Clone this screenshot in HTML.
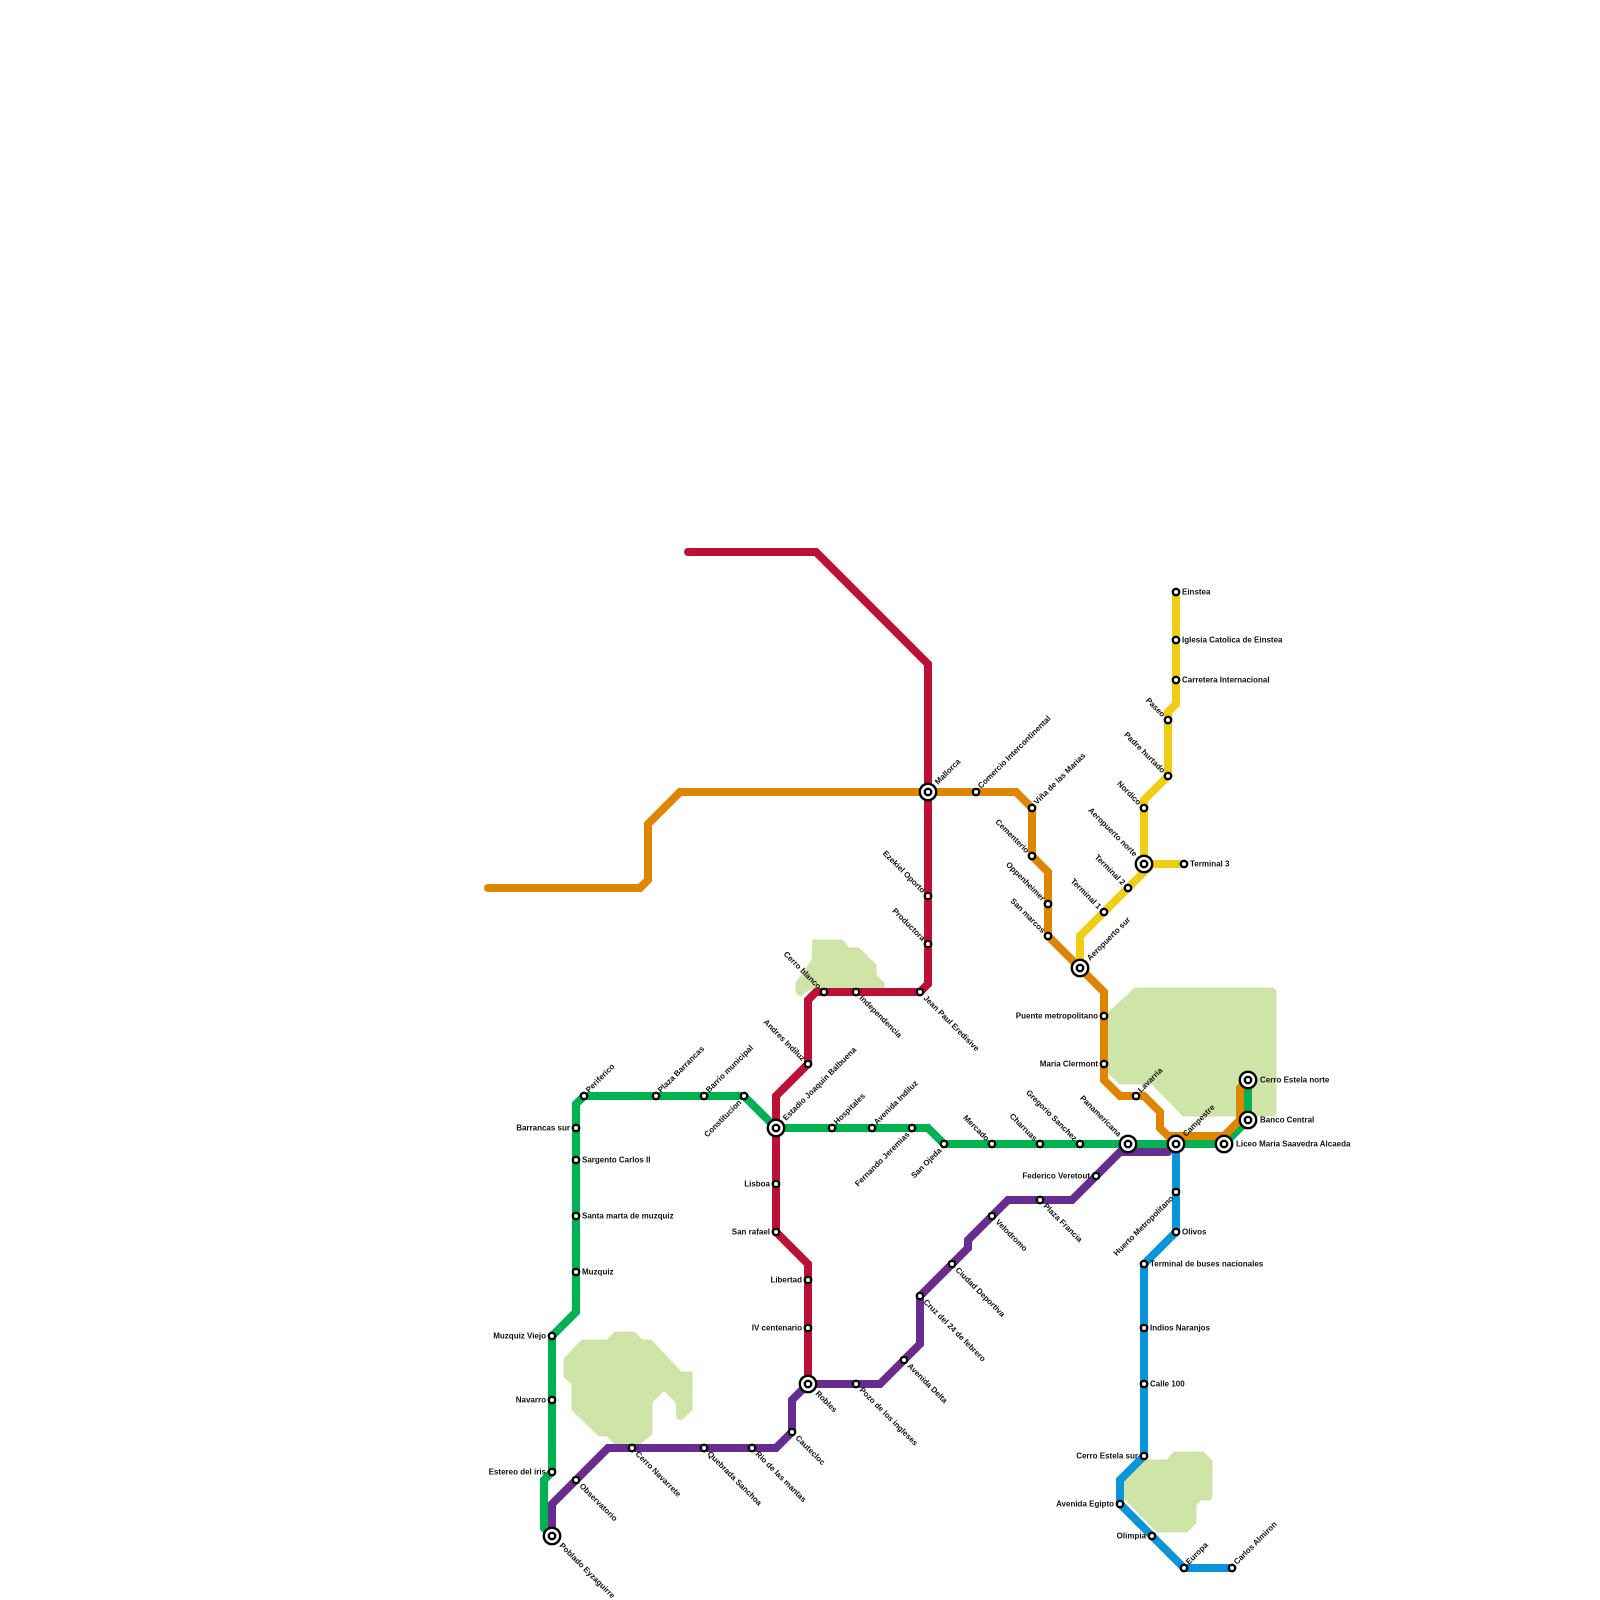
<!DOCTYPE html>
<html><head><meta charset="utf-8">
<style>
html,body{margin:0;padding:0;background:#fff}
svg{display:block}
text{font-family:"Liberation Sans",sans-serif;font-size:8px;font-weight:bold;fill:#111}
.l{fill:none;stroke-width:8;stroke-linejoin:miter;stroke-linecap:round}
.s{fill:#fff;stroke:#000;stroke-width:2.4}
.o{fill:#fff;stroke:#000;stroke-width:2.4}
.p{fill:#cfe4a7;stroke:#cfe4a7;stroke-width:1;stroke-linejoin:round}
.R{transform:translate(6px,2.5px)}
.L{text-anchor:end;transform:translate(-6px,2.5px)}
.ur{transform:translate(5px,-3px) rotate(-45deg)}
.dr{transform:translate(3px,6.5px) rotate(45deg)}
.ul{text-anchor:end;transform:translate(-6px,-2.5px) rotate(45deg)}
.dl{text-anchor:end;transform:translate(-2px,7px) rotate(-45deg)}
.iR{transform:translate(12px,2.5px)}
.iur{transform:translate(10px,-7px) rotate(-45deg)}
.idr{transform:translate(7px,10px) rotate(45deg)}
.iul{text-anchor:end;transform:translate(-10px,-7px) rotate(45deg)}
</style></head><body>
<svg width="1600" height="1600" viewBox="0 0 1600 1600" xmlns="http://www.w3.org/2000/svg">
<rect width="1600" height="1600" fill="#fff"/>
<polygon class="p" points="564,1359 582,1340 607,1340 615,1332 634,1332 642,1340 651,1340 681,1372 692,1372 692,1410 681,1420 677,1418 676,1402 664,1390 652,1402 652,1434 640,1444 615,1444 607,1436 599,1436 572,1410 572,1384 564,1377"/>
<polygon class="p" points="813,940 842,940 849,948 859,948 876,965 876,975 884,983 884,988 812,988 800,996 796,992 796,983 812,960"/>
<polygon class="p" points="1135,988 1273,988 1276,991 1276,1113 1273,1116 1183,1116 1152,1084 1120,1084 1108,1073 1108,1013"/>
<polygon class="p" points="1123,1482 1146,1460 1167,1460 1174,1452 1203,1452 1212,1461 1212,1497 1210,1500 1201,1500 1196,1505 1196,1523 1187,1532 1157,1532 1123,1497"/>

<polyline class="l" stroke="#00b251" points="552,1536 544,1528 544,1480 552,1472 552,1336 576,1312 576,1104 584,1096 744,1096 776,1128 928,1128 944,1144 1224,1144 1248,1120 1248,1080"/>
<polyline class="l" stroke="#df8600" points="488,888 640,888 648,880 648,824 680,792 1016,792 1032,808 1032,856 1048,872 1048,936 1104,992 1104,1080 1120,1096 1144,1096 1160,1112 1160,1128 1168,1136 1224,1136 1240,1120 1240,1088 1248,1080"/>
<polyline class="l" stroke="#bd1038" points="688,552 816,552 928,664 928,984 920,992 816,992 808,1000 808,1064 776,1096 776,1232 808,1264 808,1384"/>
<polyline class="l" stroke="#662c90" points="552,1536 552,1504 608,1448 776,1448 792,1432 792,1400 808,1384 880,1384 920,1344 920,1296 968,1248 968,1240 1008,1200 1072,1200 1120,1152 1168,1152"/>
<polyline class="l" stroke="#f0ce15" points="1080,968 1080,936 1144,872 1152,864 1184,864"/>
<polyline class="l" stroke="#f0ce15" points="1144,864 1144,800 1168,776 1168,712 1176,704 1176,592"/>
<polyline class="l" stroke="#0896d7" points="1176,1144 1176,1232 1144,1264 1144,1456 1120,1480 1120,1504 1184,1568 1232,1568"/>

<!-- green -->
<g transform="translate(584,1096)"><circle class="s" r="3.2"/><text class="ur">Periferico</text></g>
<g transform="translate(656,1096)"><circle class="s" r="3.2"/><text class="ur">Plaza Barrancas</text></g>
<g transform="translate(704,1096)"><circle class="s" r="3.2"/><text class="ur">Barrio municipal</text></g>
<g transform="translate(744,1096)"><circle class="s" r="3.2"/><text class="dl">Constitucion</text></g>
<g transform="translate(576,1128)"><circle class="s" r="3.2"/><text class="L">Barrancas sur</text></g>
<g transform="translate(576,1160)"><circle class="s" r="3.2"/><text class="R">Sargento Carlos II</text></g>
<g transform="translate(576,1216)"><circle class="s" r="3.2"/><text class="R">Santa marta de muzquiz</text></g>
<g transform="translate(576,1272)"><circle class="s" r="3.2"/><text class="R">Muzquiz</text></g>
<g transform="translate(552,1336)"><circle class="s" r="3.2"/><text class="L">Muzquiz Viejo</text></g>
<g transform="translate(552,1400)"><circle class="s" r="3.2"/><text class="L">Navarro</text></g>
<g transform="translate(552,1472)"><circle class="s" r="3.2"/><text class="L">Estereo del iris</text></g>
<g transform="translate(832,1128)"><circle class="s" r="3.2"/><text class="ur">Hospitales</text></g>
<g transform="translate(872,1128)"><circle class="s" r="3.2"/><text class="ur">Avenida Indiluz</text></g>
<g transform="translate(912,1128)"><circle class="s" r="3.2"/><text class="dl">Fernando Jeremias</text></g>
<g transform="translate(944,1144)"><circle class="s" r="3.2"/><text class="dl">San Ojeda</text></g>
<g transform="translate(992,1144)"><circle class="s" r="3.2"/><text class="ul">Mercado</text></g>
<g transform="translate(1040,1144)"><circle class="s" r="3.2"/><text class="ul">Charruas</text></g>
<g transform="translate(1080,1144)"><circle class="s" r="3.2"/><text class="ul">Gregorio Sanchez</text></g>
<!-- purple -->
<g transform="translate(576,1480)"><circle class="s" r="3.2"/><text class="dr">Observatorio</text></g>
<g transform="translate(632,1448)"><circle class="s" r="3.2"/><text class="dr">Cerro Navarrete</text></g>
<g transform="translate(704,1448)"><circle class="s" r="3.2"/><text class="dr">Quebrada Sanchoa</text></g>
<g transform="translate(752,1448)"><circle class="s" r="3.2"/><text class="dr">Rio de las mantas</text></g>
<g transform="translate(792,1432)"><circle class="s" r="3.2"/><text class="dr">Cautecloc</text></g>
<g transform="translate(856,1384)"><circle class="s" r="3.2"/><text class="dr">Pozo de los ingleses</text></g>
<g transform="translate(904,1360)"><circle class="s" r="3.2"/><text class="dr">Avenida Delta</text></g>
<g transform="translate(920,1296)"><circle class="s" r="3.2"/><text class="dr">Cruz del 24 de febrero</text></g>
<g transform="translate(952,1264)"><circle class="s" r="3.2"/><text class="dr">Ciudad Deportiva</text></g>
<g transform="translate(992,1216)"><circle class="s" r="3.2"/><text class="dr">Velodromo</text></g>
<g transform="translate(1040,1200)"><circle class="s" r="3.2"/><text class="dr">Plaza Francia</text></g>
<g transform="translate(1096,1176)"><circle class="s" r="3.2"/><text class="L">Federico Veretout</text></g>
<!-- red -->
<g transform="translate(776,1184)"><circle class="s" r="3.2"/><text class="L">Lisboa</text></g>
<g transform="translate(776,1232)"><circle class="s" r="3.2"/><text class="L">San rafael</text></g>
<g transform="translate(808,1280)"><circle class="s" r="3.2"/><text class="L">Libertad</text></g>
<g transform="translate(808,1328)"><circle class="s" r="3.2"/><text class="L">IV centenario</text></g>
<g transform="translate(808,1064)"><circle class="s" r="3.2"/><text class="ul">Andres Indiluz</text></g>
<g transform="translate(824,992)"><circle class="s" r="3.2"/><text class="ul">Cerro blanco</text></g>
<g transform="translate(856,992)"><circle class="s" r="3.2"/><text class="dr">Independencia</text></g>
<g transform="translate(920,992)"><circle class="s" r="3.2"/><text class="dr">Jean Paul Eredisive</text></g>
<g transform="translate(928,944)"><circle class="s" r="3.2"/><text class="ul">Productora</text></g>
<g transform="translate(928,896)"><circle class="s" r="3.2"/><text class="ul">Ezekiel Oporto</text></g>
<!-- orange -->
<g transform="translate(976,792)"><circle class="s" r="3.2"/><text class="ur">Comercio Intercontinental</text></g>
<g transform="translate(1032,808)"><circle class="s" r="3.2"/><text class="ur">Viña de las Marias</text></g>
<g transform="translate(1032,856)"><circle class="s" r="3.2"/><text class="ul">Cementerio</text></g>
<g transform="translate(1048,904)"><circle class="s" r="3.2"/><text class="ul">Oppenheimer</text></g>
<g transform="translate(1048,936)"><circle class="s" r="3.2"/><text class="ul">San marcos</text></g>
<g transform="translate(1104,1016)"><circle class="s" r="3.2"/><text class="L">Puente metropolitano</text></g>
<g transform="translate(1104,1064)"><circle class="s" r="3.2"/><text class="L">Maria Clermont</text></g>
<g transform="translate(1136,1096)"><circle class="s" r="3.2"/><text class="ur">Lavarria</text></g>
<!-- yellow -->
<g transform="translate(1104,912)"><circle class="s" r="3.2"/><text class="ul">Terminal 1</text></g>
<g transform="translate(1128,888)"><circle class="s" r="3.2"/><text class="ul">Terminal 2</text></g>
<g transform="translate(1184,864)"><circle class="s" r="3.2"/><text class="R">Terminal 3</text></g>
<g transform="translate(1144,808)"><circle class="s" r="3.2"/><text class="ul">Nordico</text></g>
<g transform="translate(1168,776)"><circle class="s" r="3.2"/><text class="ul">Padre hurtado</text></g>
<g transform="translate(1168,720)"><circle class="s" r="3.2"/><text class="ul">Paseo</text></g>
<g transform="translate(1176,680)"><circle class="s" r="3.2"/><text class="R">Carretera Internacional</text></g>
<g transform="translate(1176,640)"><circle class="s" r="3.2"/><text class="R">Iglesia Catolica de Einstea</text></g>
<g transform="translate(1176,592)"><circle class="s" r="3.2"/><text class="R">Einstea</text></g>
<!-- blue -->
<g transform="translate(1176,1192)"><circle class="s" r="3.2"/><text class="dl">Huerto Metropolitano</text></g>
<g transform="translate(1176,1232)"><circle class="s" r="3.2"/><text class="R">Olivos</text></g>
<g transform="translate(1144,1264)"><circle class="s" r="3.2"/><text class="R">Terminal de buses nacionales</text></g>
<g transform="translate(1144,1328)"><circle class="s" r="3.2"/><text class="R">Indios Naranjos</text></g>
<g transform="translate(1144,1384)"><circle class="s" r="3.2"/><text class="R">Calle 100</text></g>
<g transform="translate(1144,1456)"><circle class="s" r="3.2"/><text class="L">Cerro Estela sur</text></g>
<g transform="translate(1120,1504)"><circle class="s" r="3.2"/><text class="L">Avenida Egipto</text></g>
<g transform="translate(1152,1536)"><circle class="s" r="3.2"/><text class="L">Olimpia</text></g>
<g transform="translate(1184,1568)"><circle class="s" r="3.2"/><text class="ur">Europa</text></g>
<g transform="translate(1232,1568)"><circle class="s" r="3.2"/><text class="ur">Carlos Almiron</text></g>
<!-- interchanges -->
<g transform="translate(552,1536)"><circle class="o" r="8.2"/><circle class="s" r="3.2"/><text class="idr">Poblado Eyzaguirre</text></g>
<g transform="translate(776,1128)"><circle class="o" r="8.2"/><circle class="s" r="3.2"/><text class="iur">Estadio Joaquin Balbuena</text></g>
<g transform="translate(808,1384)"><circle class="o" r="8.2"/><circle class="s" r="3.2"/><text class="idr">Robles</text></g>
<g transform="translate(928,792)"><circle class="o" r="8.2"/><circle class="s" r="3.2"/><text class="iur">Mallorca</text></g>
<g transform="translate(1080,968)"><circle class="o" r="8.2"/><circle class="s" r="3.2"/><text class="iur">Aeropuerto sur</text></g>
<g transform="translate(1144,864)"><circle class="o" r="8.2"/><circle class="s" r="3.2"/><text class="iul">Aeropuerto norte</text></g>
<g transform="translate(1128,1144)"><circle class="o" r="8.2"/><circle class="s" r="3.2"/><text class="iul">Panamericana</text></g>
<g transform="translate(1176,1144)"><circle class="o" r="8.2"/><circle class="s" r="3.2"/><text class="iur">Campestre</text></g>
<g transform="translate(1224,1144)"><circle class="o" r="8.2"/><circle class="s" r="3.2"/><text class="iR">Liceo Maria Saavedra Alcaeda</text></g>
<g transform="translate(1248,1120)"><circle class="o" r="8.2"/><circle class="s" r="3.2"/><text class="iR">Banco Central</text></g>
<g transform="translate(1248,1080)"><circle class="o" r="8.2"/><circle class="s" r="3.2"/><text class="iR">Cerro Estela norte</text></g>
</svg>
</body></html>
